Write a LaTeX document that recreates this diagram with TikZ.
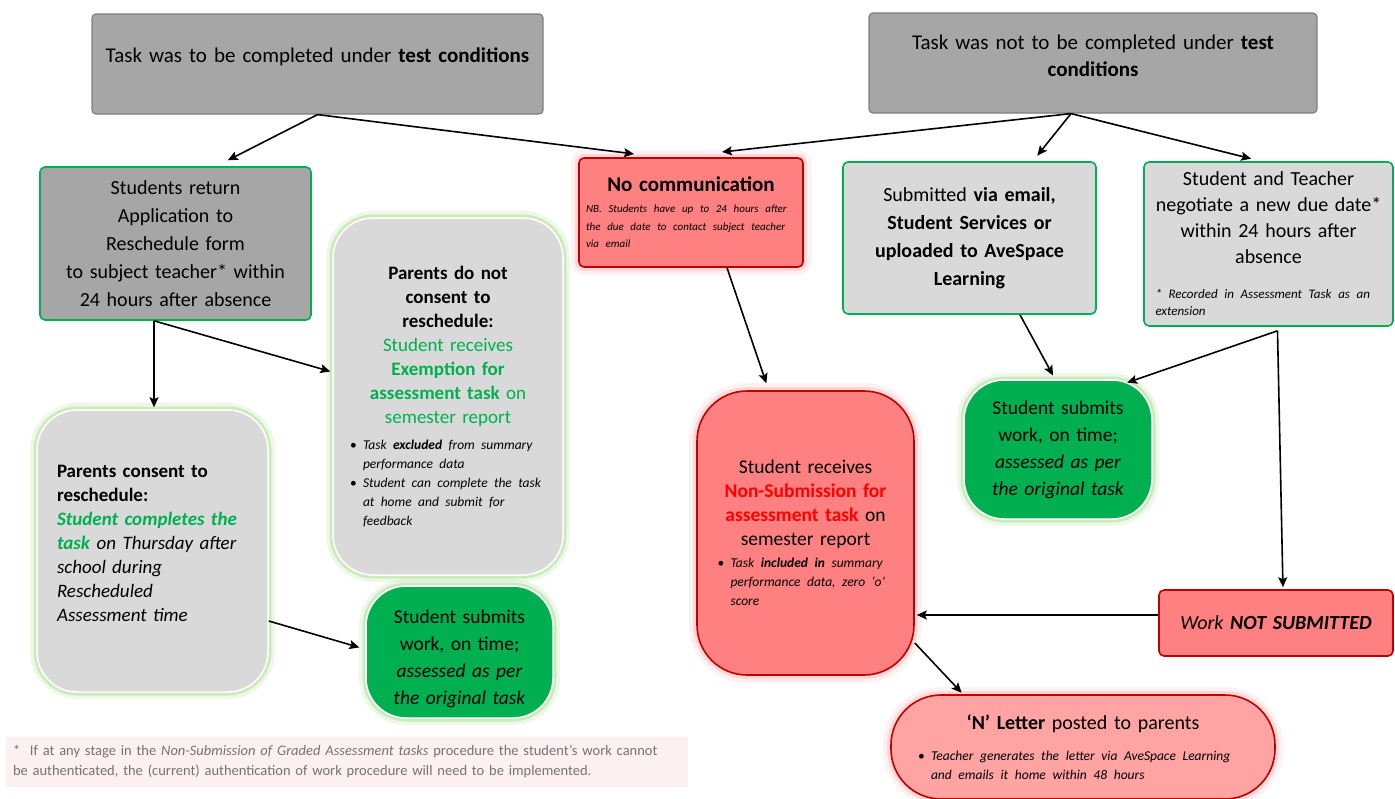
\documentclass[tikz,border=0pt]{standalone}
\usepackage{fontspec}
\setmainfont{Carlito}
\usetikzlibrary{arrows.meta,positioning}

\definecolor{darkgrey}{HTML}{A6A6A6}
\definecolor{edgegrey}{HTML}{7F7F7F}
\definecolor{lightgrey}{HTML}{D9D9D9}
\definecolor{okgreen}{HTML}{00B050}
\definecolor{glowgreen}{HTML}{A9DE8C}
\definecolor{nsred}{HTML}{FF8080}
\definecolor{lightred}{HTML}{FFA3A3}
\definecolor{edgered}{HTML}{C00000}
\definecolor{glowred}{HTML}{FF8A8A}
\definecolor{notepink}{HTML}{FDF0F0}
\definecolor{notegrey}{HTML}{737373}

% bullet lists inside the boxes
\newcommand{\bullets}[2]{\parbox[t]{#1}{\raggedright\parfillskip=0pt plus 1fil\frenchspacing\itshape\fontsize{13.5}{19}\selectfont #2}}
\newcommand{\bitem}[1]{\par\hangindent=13pt\hangafter=1\noindent\makebox[13pt][l]{\upshape\textbullet}#1\par}
\newcommand{\smallnote}[2]{\parbox[t]{#1}{\raggedright\parfillskip=0pt plus 1fil\frenchspacing\itshape #2}}

\tikzset{
  darkbox/.style={draw=edgegrey, fill=darkgrey, line width=1.2pt, rounded corners=4pt, align=center, inner sep=4pt, font=\fontsize{21}{27}\selectfont},
  returnbox/.style={draw=okgreen, fill=darkgrey, line width=1.6pt, rounded corners=5pt, align=center, inner sep=4pt, font=\fontsize{20}{28}\selectfont},
  lightbox/.style={draw=okgreen, fill=lightgrey, line width=1.6pt, rounded corners=5pt, align=center, inner sep=4pt, font=\fontsize{20}{27}\selectfont},
  greenglow/.style={preaction={draw=glowgreen, line width=14pt, opacity=0.2}, preaction={draw=glowgreen, line width=7pt, opacity=0.5}},
  redglow/.style={preaction={draw=glowred, line width=16pt, opacity=0.12}, preaction={draw=glowred, line width=8pt, opacity=0.25}},
  softbox/.style={draw=white, fill=lightgrey, line width=1.5pt, rounded corners=40pt, greenglow, inner sep=4pt, font=\fontsize{19}{24}\selectfont},
  greenbubble/.style={draw=white, fill=okgreen, line width=1.5pt, rounded corners=40pt, greenglow, align=center, inner sep=4pt, font=\fontsize{19.5}{27}\selectfont},
  redbox/.style={draw=edgered, fill=nsred, line width=1.6pt, rounded corners=5pt, align=center, inner sep=4pt, font=\fontsize{19.5}{24}\selectfont},
  link/.style={-{Stealth[length=10pt,width=9pt,inset=2pt]}, line width=1.6pt, shorten >=2pt}
}

\begin{document}
\begin{tikzpicture}[x=1pt,y=-1pt]
\useasboundingbox (0,0) rectangle (1395,798);

% test conditions or not
\node[darkbox, minimum width=451pt, minimum height=100pt, text width=440pt] (tc) at (317.5,64)
  {Task was to be completed under \textbf{test conditions}\\[-10pt]\mbox{}};
\node[darkbox, minimum width=448pt, minimum height=100pt, text width=430pt] (ntc) at (1093,63)
  {Task was not to be completed under \textbf{test}\\\textbf{conditions}\\[-13pt]\mbox{}};

% left branch
\node[returnbox, minimum width=271pt, minimum height=153pt, text width=260pt] (ret) at (175.5,243.5)
  {Students return\\Application to\\Reschedule form\\to subject teacher* within\\24 hours after absence};
\node[softbox, align=center, minimum width=230pt, minimum height=357pt, text width=215pt] (nocons) at (448,396.5)
  {\textbf{Parents do not\\consent to\\reschedule:}\\
   {\color{okgreen}Student receives\\\textbf{Exemption for}\\\textbf{assessment task} on\\semester report}\\[2pt]
   \bullets{196pt}{\bitem{Task \textbf{excluded} from summary\newline performance data}\bitem{Student can complete the task\newline at home and submit for\newline feedback}}};
\node[softbox, align=left, minimum width=231pt, minimum height=282pt, text width=191pt] (cons) at (152.5,551)
  {\textbf{Parents consent to\\reschedule:}\\
   \textcolor{okgreen}{\textbf{\textit{Student completes the\\task}}} \textit{on Thursday after\\school during\\Rescheduled\\Assessment time}\\[-8pt]\mbox{}};
\node[greenbubble, minimum width=187pt, minimum height=132pt, text width=175pt] (subL) at (459.5,652)
  {\rule{0pt}{27pt}Student submits\\work, on time;\\\textit{assessed as per}\\\textit{the original task}};

% middle branch
\node[redbox, redglow, minimum width=224pt, minimum height=109pt, text width=214pt, font=\fontsize{20}{21}\selectfont] (nocomm) at (691,212.5)
  {{\fontsize{21}{24}\selectfont\textbf{No communication}}\\
   \smallnote{210pt}{\fontsize{11}{17.5}\selectfont NB. Students have up to 24 hours after\newline the due date to contact subject teacher\newline via email}};
\node[redbox, redglow, rounded corners=50pt, minimum width=217pt, minimum height=284pt, text width=200pt] (nsub) at (805.5,533)
  {Student receives\\{\color{red}\textbf{Non-Submission for}\\\textbf{assessment task}} on\\semester report\\[-2pt]
   \bullets{176pt}{\bitem{Task \textbf{included in} summary\newline performance data, zero ‘o’\newline score}}};

% right branch
\node[lightbox, minimum width=253pt, minimum height=152pt, text width=240pt, font=\fontsize{20}{28}\selectfont] (viaemail) at (969.5,238)
  {Submitted \textbf{via email,}\\\textbf{Student Services or}\\\textbf{uploaded to AveSpace}\\\textbf{Learning}};
\node[lightbox, minimum width=249pt, minimum height=164pt, text width=240pt, font=\fontsize{20}{26}\selectfont] (negot) at (1268.5,244)
  {Student and Teacher\\negotiate a new due date*\\within 24 hours after\\absence\\[9pt]
   \smallnote{226pt}{\fontsize{13}{17}\selectfont * Recorded in Assessment Task as an\newline extension}};
\node[greenbubble, minimum width=188pt, minimum height=139pt, text width=176pt] (subR) at (1058,449.5)
  {Student submits\\work, on time;\\\textit{assessed as per}\\\textit{the original task}};
\node[redbox, minimum width=234pt, minimum height=66pt, text width=222pt, font=\fontsize{20}{24}\selectfont] (notsub) at (1276,623)
  {\textit{Work \textbf{NOT SUBMITTED}}};
\node[redbox, redglow, fill=lightred, rounded corners=50pt, minimum width=384pt, minimum height=104pt, text width=370pt, font=\fontsize{20}{24}\selectfont] (nletter) at (1083,747)
  {\textbf{‘N’ Letter} posted to parents\\[7pt]
   \bullets{330pt}{\bitem{Teacher generates the letter via AveSpace Learning\newline and emails it home within 48 hours}}};

% footnote
\node[fill=notepink, text=notegrey, align=left, minimum width=682pt, minimum height=50pt, text width=668pt, font=\fontsize{14.5}{20}\selectfont] (note) at (347,762)
  {\hangindent=16pt\hangafter=1 *\ \ If at any stage in the \textit{Non-Submission of Graded Assessment tasks} procedure the student’s work cannot\newline be authenticated, the (current) authentication of work procedure will need to be implemented.};

% connectors
\coordinate (tcfoot) at (tc.south);
\coordinate (ntcfoot) at ([xshift=-22pt]ntc.south);
\coordinate (retfoot) at ([xshift=-21.5pt]ret.south);
\coordinate (split) at ([xshift=9pt,yshift=-4pt]negot.south);
\draw[link] (tcfoot) -- ([xshift=50.5pt,yshift=5pt]ret.north);
\draw[link] (tcfoot) -- ([xshift=-55pt,yshift=3pt]nocomm.north);
\draw[link] (ntcfoot) -- ([xshift=29pt,yshift=5pt]nocomm.north);
\draw[link] (ntcfoot) -- ([xshift=66.5pt,yshift=4pt]viaemail.north);
\draw[link] (ntcfoot) -- ([xshift=-15.5pt,yshift=2pt]negot.north);
\draw[link] (retfoot) -- (retfoot |- cons.north);
\draw[link] (retfoot) -- ([yshift=24.5pt]nocons.west);
\draw[link] ([yshift=-70pt]cons.east) -- ([xshift=-4pt,yshift=4pt]subL.west);
\draw[link] ([xshift=36pt]nocomm.south) -- ([xshift=-38.5pt,yshift=5pt]nsub.north);
\draw[link] ([xshift=50.5pt]viaemail.south) -- ([xshift=-4pt,yshift=2pt]subR.north);
\draw[link] (split) -- ([xshift=-3pt,yshift=-4pt]subR.45);
\draw[link] (split) -- ([xshift=7pt]notsub.north);
\draw[link] ([yshift=8pt]notsub.west) -- ([yshift=8pt]notsub.west -| nsub.east);
\draw[link] ([yshift=-110pt]nsub.east) -- ([xshift=-120pt]nletter.north);
\end{tikzpicture}
\end{document}
